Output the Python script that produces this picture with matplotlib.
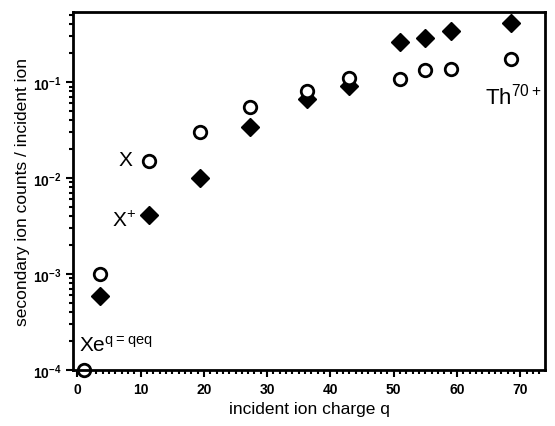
import matplotlib.pyplot as plt
from matplotlib.ticker import MultipleLocator, LogLocator, NullFormatter

plt.rcParams['font.family'] = ['Liberation Sans', 'DejaVu Sans']
plt.rcParams['mathtext.default'] = 'regular'

q_open = [1, 3.6, 11.4, 19.4, 27.3, 36.3, 43, 51, 55, 59, 68.6]
y_open = [1.0e-4, 1.0e-3, 0.0151, 0.030, 0.055, 0.081, 0.110, 0.107, 0.133, 0.136, 0.174]

q_filled = [3.6, 11.4, 19.4, 27.3, 36.3, 43, 51, 55, 59, 68.6]
y_filled = [5.9e-4, 0.0041, 0.010, 0.034, 0.066, 0.092, 0.26, 0.29, 0.34, 0.41]

x_ticks = [0, 10, 20, 30, 40, 50, 60, 70]


def main():
    fig = plt.figure(figsize=(5.55, 4.27), dpi=100)
    ax = fig.add_axes([0.1324, 0.131, 0.8496, 0.839])

    ax.plot(q_filled, y_filled, 'D', color='black', markersize=9, clip_on=False)
    ax.plot(q_open, y_open, 'o', mfc='white', mec='black', mew=2,
            markersize=9, clip_on=False)

    ax.set_yscale('log')
    ax.set_xlim(-0.6, 73.9)
    ax.set_ylim(1e-4, 0.54)

    ax.set_xticks(x_ticks)
    ax.xaxis.set_minor_locator(MultipleLocator(1))
    ax.yaxis.set_major_locator(LogLocator(base=10, numticks=10))
    ax.yaxis.set_minor_locator(LogLocator(base=10, subs=range(2, 10), numticks=10))
    ax.yaxis.set_minor_formatter(NullFormatter())

    ax.tick_params(which='both', direction='out', top=False, right=False,
                   width=1.5, labelsize=10)
    ax.tick_params(which='major', length=5)
    ax.tick_params(which='minor', length=3)
    for lab in ax.get_xticklabels() + ax.get_yticklabels():
        lab.set_fontweight('bold')
    for sp in ax.spines.values():
        sp.set_linewidth(2)

    ax.set_xlabel('incident ion charge q', fontsize=12.5, labelpad=4)
    ax.set_ylabel('secondary ion counts / incident ion', fontsize=12.5, labelpad=2)

    # annotations
    ax.text(7.6, 0.0155, 'X', fontsize=15, ha='center', va='center')
    ax.text(7.4, 0.0037, 'X$^{+}$', fontsize=15, ha='center', va='center')
    ax.text(0.3, 1.85e-4, 'Xe$^{q=qeq}$', fontsize=15, ha='left', va='center')
    ax.text(73.4, 0.072, 'Th$^{70+}$', fontsize=16, ha='right', va='center')

    fig.savefig('out.png', dpi=100)


if __name__ == "__main__":
    main()
